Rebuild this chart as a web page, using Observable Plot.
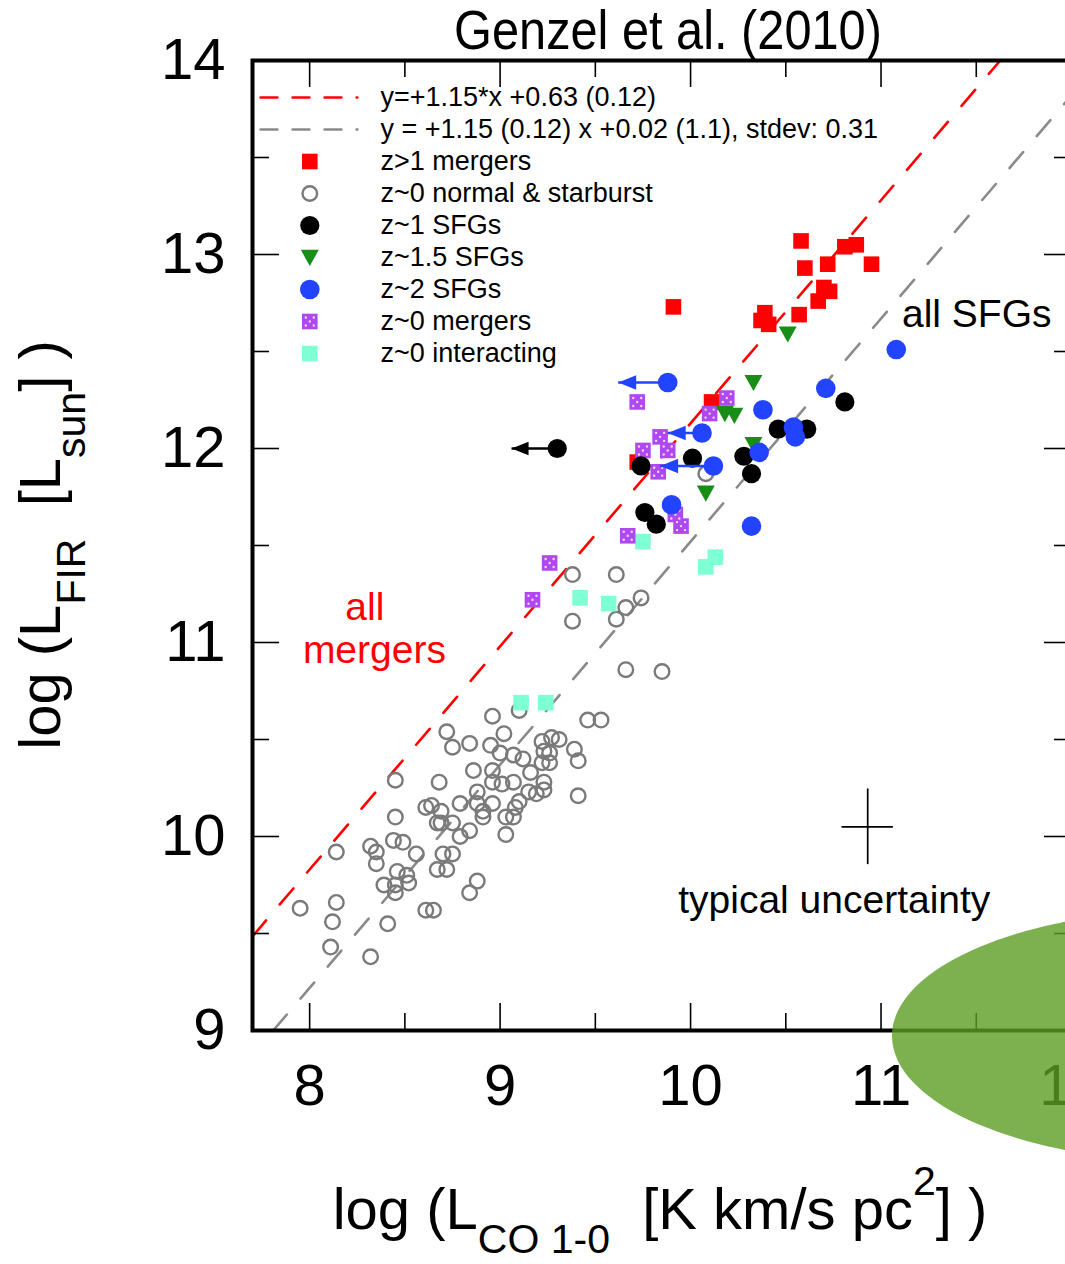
<!DOCTYPE html>
<html>
<head>
<meta charset="utf-8">
<script src="https://cdn.jsdelivr.net/npm/d3@7"></script>
<script src="https://cdn.jsdelivr.net/npm/@observablehq/plot@0.6"></script>
<style>
  html, body { margin: 0; padding: 0; background: #fff; overflow: hidden; }
  body { width: 1065px; height: 1264px; font-family: "Liberation Sans", Arial, Helvetica, sans-serif; }
  #title { position: relative; width: 1080px; height: 56px; }
  #title span { position: absolute; left: 668px; top: 2px; font-size: 56px; line-height: 1; white-space: nowrap;
                transform: translateX(-50%) scaleX(0.87); color: #000; }
  #chart { width: 1080px; }
  #chart svg { display: block; overflow: visible; }
</style>
</head>
<body>
<div id="title"><span>Genzel et al. (2010)</span></div>
<div id="chart"></div>
<script>
// ---------------- data ----------------
// log L'CO (x) , log LFIR (y)
const zGt1Mergers = [
  [10.58,13.07],[10.60,12.93],[10.72,12.95],[10.81,13.04],[10.87,13.05],[10.95,12.95],
  [10.70,12.83],[10.73,12.81],[10.67,12.76],[10.57,12.69],[10.39,12.70],[10.37,12.66],
  [10.41,12.64],[9.91,12.73],[10.11,12.24],[9.72,11.93]
];
const z0Normal = [
  [10.08,11.87],[9.38,11.35],[9.61,11.35],[9.38,11.11],[9.61,11.12],[9.66,11.18],[9.74,11.23],
  [9.66,10.86],[9.85,10.85],[9.10,10.65],[8.96,10.62],[9.46,10.60],[9.53,10.60],[8.72,10.54],
  [9.02,10.53],[8.75,10.46],[8.84,10.48],[8.95,10.47],[9.00,10.43],[9.07,10.42],[9.12,10.40],
  [9.22,10.49],[9.27,10.51],[9.31,10.50],[9.23,10.44],[9.26,10.43],[9.39,10.45],[9.41,10.39],
  [9.22,10.38],[9.26,10.38],[8.86,10.34],[8.96,10.34],[9.16,10.33],[8.45,10.29],[8.68,10.28],
  [8.96,10.28],[9.01,10.27],[9.07,10.28],[9.23,10.28],[9.15,10.23],[9.19,10.22],[9.23,10.24],
  [8.88,10.23],[8.64,10.16],[8.61,10.15],[8.69,10.13],[8.79,10.17],[8.88,10.17],[8.91,10.13],
  [8.96,10.17],[9.08,10.15],[9.10,10.18],[9.03,10.10],[9.07,10.10],[8.91,10.10],[9.41,10.21],
  [8.67,10.07],[8.69,10.07],[8.75,10.07],[8.84,10.03],[8.79,10.00],[9.03,10.01],[8.45,10.10],
  [8.32,9.95],[8.35,9.92],[8.35,9.86],[8.44,9.98],[8.49,9.97],[8.56,9.91],[8.70,9.91],
  [8.75,9.91],[8.67,9.83],[8.72,9.83],[8.46,9.82],[8.51,9.80],[8.39,9.75],[8.45,9.75],
  [8.52,9.76],[8.45,9.71],[8.14,9.92],[8.88,9.77],[8.84,9.71],[7.95,9.63],[8.14,9.66],
  [8.12,9.56],[8.61,9.62],[8.65,9.62],[8.41,9.55],[8.11,9.43],[8.32,9.38]
];
const z1SFGs = [
  [9.30,12.00],[9.74,11.91],[10.01,11.95],[10.28,11.96],[10.32,11.87],[10.46,12.10],
  [10.61,12.10],[10.81,12.24],[9.76,11.67],[9.82,11.61]
];
const z1Limits = [[9.30,12.00,9.06]];               // [x, y, upper-limit arrow tip x]
const z15SFGs = [
  [10.51,12.59],[10.33,12.34],[10.18,12.18],[10.23,12.17],[10.33,12.02],[10.08,11.77]
];
const z2SFGs = [
  [9.88,12.34],[10.06,12.08],[10.12,11.91],[10.38,12.20],[10.71,12.31],[11.08,12.51],
  [10.36,11.98],[10.54,12.11],[10.55,12.06],[9.90,11.71],[10.32,11.60]
];
const z2Limits = [[9.88,12.34,9.62],[10.06,12.08,9.88],[10.12,11.91,9.84]];
const z0Mergers = [
  [9.72,12.24],[10.19,12.26],[10.10,12.18],[9.84,12.06],[9.75,11.99],[9.88,11.99],
  [9.83,11.88],[9.92,11.66],[9.95,11.60],[9.67,11.55],[9.26,11.41],[9.17,11.22]
];
const z0Interacting = [
  [9.75,11.52],[9.42,11.23],[9.57,11.20],[10.13,11.44],[10.08,11.39],[9.11,10.69],[9.24,10.69]
];
const fitLabels = ["y=+1.15*x +0.63 (0.12)", "y = +1.15 (0.12) x +0.02 (1.1), stdev: 0.31"];
const fitSlopes = [1.15, 1.15];
const fitIntercepts = [0.63, 0.02];
const seriesLabels = ["z>1 mergers","z~0 normal & starburst","z~1 SFGs","z~1.5 SFGs","z~2 SFGs","z~0 mergers","z~0 interacting"];
const xTickLabels = [8, 9, 10, 11, 12];
const yTickLabels = [9, 10, 11, 12, 13, 14];
const xMajor = [8, 9, 10, 11], xMinor = [8.5, 9.5, 10.5, 11.5];
const yMajor = [10, 11, 12, 13], yMinor = [9.5, 10.5, 11.5, 12.5, 13.5];
const uncertainty = [{x: 10.93, y: 10.05, ex: 0.135, ey: 0.195}];
const notes = [
  {text: "all", x: 8.29, y: 11.18, color: "#ff0000", anchor: "middle"},
  {text: "mergers", x: 8.34, y: 10.96, color: "#ff0000", anchor: "middle"},
  {text: "all SFGs", x: 11.11, y: 12.69, color: "#000", anchor: "start"},
  {text: "typical uncertainty", x: 9.935, y: 9.67, color: "#000", anchor: "start"}
];
const highlight = {x: 12.64, y: 8.97, rx: 1.58, ry: 0.65};

// ---------------- layout & styles ----------------
const X0 = 7.7, X1 = 12, Y0 = 9, Y1 = 14;
const W = 1080, H = 1208, ML = 252, MR = 9, MT = 4, MB = 234;
const FW = W - ML - MR, FH = H - MT - MB;
const SVG_TOP = 56;
const px2x = px => X0 + (px - ML) * (X1 - X0) / FW;
const py2y = py => Y1 - (py - SVG_TOP - MT) * (Y1 - Y0) / FH;

const RED = "#ff0000", GRAYC = "#7a7a7a", GREEN = "#178f17", BLUE = "#2243ff",
      PURPLE = "#b048f2", AQUA = "#7fffd4", DOTS = "#f3ddff";
const fitColors = [RED, "#8a8a8a"];

const triDown = {draw(ctx, size) { const r = Math.sqrt(size / Math.PI);
  ctx.moveTo(-r, -0.85 * r); ctx.lineTo(r, -0.85 * r); ctx.lineTo(0, 0.95 * r); ctx.closePath(); }};
const headLeft = {draw(ctx, size) { const r = Math.sqrt(size / Math.PI);
  ctx.moveTo(0, 0); ctx.lineTo(2 * r, -0.8 * r); ctx.lineTo(2 * r, 0.8 * r); ctx.closePath(); }};
const dieDots = {draw(ctx, size) { const r = Math.sqrt(size / Math.PI), a = r * 0.5, s = r * 0.15;
  for (const [u, v] of [[-a,-a],[a,-a],[0,0],[-a,a],[a,a]]) { ctx.moveTo(u + s, v); ctx.arc(u, v, s, 0, 2 * Math.PI); } }};

const styles = {
  "z>1 mergers": {symbol: "square", fill: RED, r: 8.8},
  "z~0 normal & starburst": {symbol: "circle", fill: "none", stroke: GRAYC, strokeWidth: 2.4, r: 7.3},
  "z~1 SFGs": {symbol: "circle", fill: "#000", r: 9.6},
  "z~1.5 SFGs": {symbol: triDown, fill: GREEN, r: 9},
  "z~2 SFGs": {symbol: "circle", fill: BLUE, r: 9.8},
  "z~0 mergers": {symbol: "square", fill: PURPLE, r: 8.8},
  "z~0 interacting": {symbol: "square", fill: AQUA, r: 8.8}
};
const seriesData = {
  "z>1 mergers": zGt1Mergers, "z~0 normal & starburst": z0Normal, "z~1 SFGs": z1SFGs,
  "z~1.5 SFGs": z15SFGs, "z~2 SFGs": z2SFGs, "z~0 mergers": z0Mergers, "z~0 interacting": z0Interacting
};
const drawOrder = ["z~0 normal & starburst","z~0 interacting","z>1 mergers","z~0 mergers","z~1 SFGs","z~1.5 SFGs","z~2 SFGs"];

function dots(data, st) {
  return Plot.dot(data, {x: d => d[0], y: d => d[1], symbol: st.symbol, r: st.r,
    fill: st.fill, stroke: st.stroke || "none", strokeWidth: st.strokeWidth || 0});
}

const marks = [];
// fit lines
fitSlopes.forEach((m, i) => {
  const b = fitIntercepts[i];
  const xa = Math.max(X0, (Y0 - b) / m), xb = Math.min(X1, (Y1 - b) / m);
  marks.push(Plot.line([[xa, m * xa + b], [xb, m * xb + b]],
    {x: d => d[0], y: d => d[1], stroke: fitColors[i], strokeWidth: 2.6, strokeDasharray: "21,21"}));
});
// series
for (const key of drawOrder) {
  const st = styles[key];
  if (key === "z~1 SFGs") {
    marks.push(Plot.link(z1Limits, {x1: d => d[0], y1: d => d[1], x2: d => d[2], y2: d => d[1], stroke: "#000", strokeWidth: 2.6}));
    marks.push(Plot.dot(z1Limits, {x: d => d[2], y: d => d[1], symbol: headLeft, fill: "#000", r: 8.5}));
  }
  if (key === "z~2 SFGs") {
    marks.push(Plot.link(z2Limits, {x1: d => d[0], y1: d => d[1], x2: d => d[2], y2: d => d[1], stroke: BLUE, strokeWidth: 2.6}));
    marks.push(Plot.dot(z2Limits, {x: d => d[2], y: d => d[1], symbol: headLeft, fill: BLUE, r: 9}));
  }
  marks.push(dots(seriesData[key], st));
  if (key === "z~0 mergers") {
    marks.push(Plot.dot(z0Mergers, {x: d => d[0], y: d => d[1], symbol: dieDots, fill: DOTS, r: 8}));
  }
}
// uncertainty cross
marks.push(Plot.ruleX(uncertainty, {x: "x", y1: d => d.y - d.ey, y2: d => d.y + d.ey, stroke: "#000", strokeWidth: 1.7}));
marks.push(Plot.ruleY(uncertainty, {y: "y", x1: d => d.x - d.ex, x2: d => d.x + d.ex, stroke: "#000", strokeWidth: 1.7}));
// annotations
for (const n of notes) {
  marks.push(Plot.text([n], {x: "x", y: "y", text: "text", fill: n.color, fontSize: 39, textAnchor: n.anchor}));
}
// legend
const LEG = {lineX1: 260, lineX2: 357, markX: 309.3, textX: 380, row0: 97, step: 32};
const rowY = k => py2y(LEG.row0 + LEG.step * k);
fitLabels.forEach((lab, i) => {
  marks.push(Plot.line([[px2x(LEG.lineX1), rowY(i)], [px2x(LEG.lineX2), rowY(i)]],
    {x: d => d[0], y: d => d[1], stroke: fitColors[i], strokeWidth: 2.4, strokeDasharray: "17,15"}));
});
seriesLabels.forEach((lab, j) => {
  const st = styles[lab];
  marks.push(dots([[px2x(LEG.markX), rowY(j + 2)]], st));
  if (lab === "z~0 mergers") marks.push(Plot.dot([[px2x(LEG.markX), rowY(j + 2)]], {x: d => d[0], y: d => d[1], symbol: dieDots, fill: DOTS, r: 8}));
});
const legendText = fitLabels.concat(seriesLabels);
marks.push(Plot.text(legendText, {x: () => px2x(LEG.textX), y: (d, i) => rowY(i), text: d => d,
  textAnchor: "start", fontSize: 27, fill: "#000"}));
// ticks (inward, mirrored)
const tk = {stroke: "#000", strokeWidth: 1.6};
marks.push(Plot.ruleX(xMajor, {...tk, insetTop: FH - 27}), Plot.ruleX(xMajor, {...tk, insetBottom: FH - 27}));
marks.push(Plot.ruleX(xMinor, {...tk, insetTop: FH - 17}), Plot.ruleX(xMinor, {...tk, insetBottom: FH - 17}));
marks.push(Plot.ruleY(yMajor, {...tk, insetRight: FW - 27}), Plot.ruleY(yMajor, {...tk, insetLeft: FW - 27}));
marks.push(Plot.ruleY(yMinor, {...tk, insetRight: FW - 17}), Plot.ruleY(yMinor, {...tk, insetLeft: FW - 17}));
marks.push(Plot.frame({stroke: "#000", strokeWidth: 4}));
marks.push(Plot.axisX({ticks: xTickLabels, tickSize: 0, tickPadding: 33, fontSize: 58, label: null, tickFormat: d => `${d}`}));
marks.push(Plot.axisY({ticks: yTickLabels, tickSize: 0, tickPadding: 27, fontSize: 58, label: null, tickFormat: d => `${d}`}));

const chart = Plot.plot({
  width: W, height: H,
  marginLeft: ML, marginRight: MR, marginTop: MT, marginBottom: MB,
  x: {domain: [X0, X1]}, y: {domain: [Y0, Y1]},
  style: "max-width:none;width:1080px;height:1208px;overflow:visible;background:transparent;font-family:'Liberation Sans',Arial,Helvetica,sans-serif;",
  marks
});
document.getElementById("chart").append(chart);

// axis titles with sub/superscripts, and the green highlight ellipse
const svg = d3.select(chart);
const sx = chart.scale("x"), sy = chart.scale("y");
const FONT = "'Liberation Sans',Arial,Helvetica,sans-serif";

const xt = svg.append("text").attr("x", 660).attr("y", 1229 - SVG_TOP)
  .attr("text-anchor", "middle").attr("font-size", 58).attr("font-family", FONT)
  .attr("fill", "#000").style("white-space", "pre");
xt.append("tspan").text("log (L");
xt.append("tspan").attr("font-size", 41).attr("dy", 24).text("CO 1-0");
xt.append("tspan").attr("dy", -24).text("  [K km/s pc");
xt.append("tspan").attr("font-size", 41).attr("dy", -34).text("2");
xt.append("tspan").attr("dy", 34).text("] )");

const yt = svg.append("text").attr("transform", `translate(60,${545 - SVG_TOP}) rotate(-90)`)
  .attr("text-anchor", "middle").attr("font-size", 58).attr("font-family", FONT)
  .attr("fill", "#000").style("white-space", "pre");
yt.append("tspan").text("log (L");
yt.append("tspan").attr("font-size", 41).attr("dy", 25).text("FIR");
yt.append("tspan").attr("dy", -25).text("  [L");
yt.append("tspan").attr("font-size", 41).attr("dy", 25).text("sun");
yt.append("tspan").attr("dy", -25).text("] )");

const pxPerX = FW / (X1 - X0), pxPerY = FH / (Y1 - Y0);
svg.append("ellipse")
  .attr("cx", sx.apply(highlight.x)).attr("cy", sy.apply(highlight.y))
  .attr("rx", highlight.rx * pxPerX).attr("ry", highlight.ry * pxPerY)
  .attr("fill", "rgb(92,158,36)").attr("fill-opacity", 0.8);
</script>
</body>
</html>
